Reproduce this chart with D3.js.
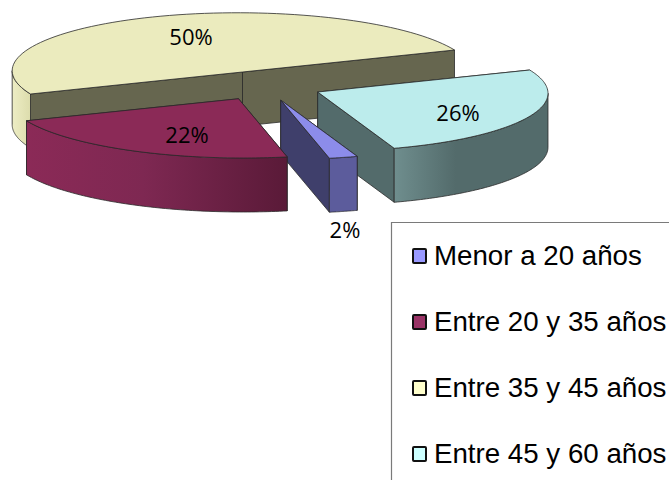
<!DOCTYPE html>
<html><head><meta charset="utf-8">
<script src="https://cdn.jsdelivr.net/npm/d3@7"></script>
<style>html,body{margin:0;padding:0;background:#fff;overflow:hidden}svg{display:block}</style>
</head><body><svg id="c" width="669" height="480"></svg>
<script>
const categories = ["Menor a 20 años","Entre 20 y 35 años","Entre 35 y 45 años","Entre 45 y 60 años"];
const values = [2,22,50,26];
const labels = ["2%","22%","50%","26%"];
const legendColors = ["#9999FF","#993366","#FFFFCC","#CCFFFF"];
const topColors = ["#8C8CEA","#8B2A57","#EBEBBE","#BCECEC"];
const radialColors = ["#3F3F6B","#5A1C3A","#66664F","#536B6B"];
const wallStops = [
  [["#5C5C9C",0],["#5C5C9C",1]],
  [["#8B2A57",0],["#7E2852",.45],["#5A1A38",1]],
  [["#EDEDC4",0],["#DCDCAC",1]],
  [["#6F8E8E",0],["#536B6B",.4],["#536B6B",1]]
];
const labelPos = [[345,232],[187,137],[191,39],[458,115]];
const drawOrder = [2,3,0,1];

const W=669,H=480;
const svg=d3.select("#c");
const rad=d=>d*Math.PI/180;
const centre=[265,85.75], u=[212,-22], w=[90,55], depth=54, explode=0.25;
const pie=d3.pie().sort(null).value(d=>d).startAngle(rad(93.6)).endAngle(rad(453.6));
const arcs=pie(values);
const silhouette=Math.atan2(w[0],u[0]);

const defs=svg.append("defs");
wallStops.forEach((stops,i)=>{
  const g=defs.append("linearGradient").attr("id","wall"+i).attr("x1",0).attr("x2",1).attr("y1",0).attr("y2",0);
  stops.forEach(s=>g.append("stop").attr("offset",s[1]).attr("stop-color",s[0]));
});

const line=d3.line().curve(d3.curveLinear);
const project=(o,t,r=1)=>[o[0]+r*(Math.cos(t)*u[0]+Math.sin(t)*w[0]), o[1]+r*(Math.cos(t)*u[1]+Math.sin(t)*w[1])];
const down=p=>[p[0],p[1]+depth];
const sample=(a,b)=>d3.range(0,81).map(k=>a+(b-a)*k/80);
const edge={stroke:"#2a2a2a","stroke-width":0.8,"stroke-linejoin":"round"};
const styled=(sel,o)=>{Object.entries(o).forEach(([k,v])=>sel.attr(k,v));return sel;};

drawOrder.forEach(i=>{
  const a=arcs[i];
  const mid=(a.startAngle+a.endAngle)/2;
  const o=project(centre,mid,explode);
  const g=svg.append("g");
  [a.startAngle,a.endAngle].forEach(t=>{
    const p=project(o,t);
    styled(g.append("path").attr("d",line([o,p,down(p),down(o)])+"Z").attr("fill",radialColors[i]),edge);
  });
  const lo=Math.max(a.startAngle,silhouette), hi=Math.min(a.endAngle,silhouette+Math.PI);
  const lo2=Math.max(a.startAngle,silhouette+2*Math.PI), hi2=Math.min(a.endAngle,silhouette+3*Math.PI);
  [[lo,hi],[lo2,hi2]].forEach(([s,e])=>{
    if(e<=s) return;
    const top=sample(s,e).map(t=>project(o,t));
    const pts=top.concat(top.map(down).reverse());
    styled(g.append("path").attr("d",line(pts)+"Z").attr("fill","url(#wall"+i+")"),edge);
  });
  const rim=sample(a.startAngle,a.endAngle).map(t=>project(o,t));
  styled(g.append("path").attr("d",line([o].concat(rim))+"Z").attr("fill",topColors[i]),edge);
});

svg.selectAll("text.lab").data(labels).join("text").attr("class","lab")
  .attr("x",(d,i)=>labelPos[i][0]).attr("y",(d,i)=>labelPos[i][1])
  .attr("text-anchor","middle").attr("dominant-baseline","middle")
  .attr("font-family","'Open Sans',sans-serif").attr("font-size",22).attr("fill","#000").text(d=>d);

svg.append("path").attr("d","M391.5,480V222.5H669").attr("fill","none").attr("stroke","#7a7a7a").attr("stroke-width",1.2);
const rowY=d3.scaleLinear().domain([0,3]).range([265,463]);
const leg=svg.selectAll("g.leg").data(categories).join("g").attr("class","leg");
leg.append("rect").attr("x",413).attr("y",(d,i)=>rowY(i)-16).attr("width",13).attr("height",14)
  .attr("rx",1).attr("fill",(d,i)=>legendColors[i]).attr("stroke","#111").attr("stroke-width",2);
leg.append("text").attr("x",434).attr("y",(d,i)=>rowY(i)).attr("font-family","'Liberation Sans',Arial,sans-serif")
  .attr("font-size",27.7).attr("fill","#000").text(d=>d);
</script></body></html>
